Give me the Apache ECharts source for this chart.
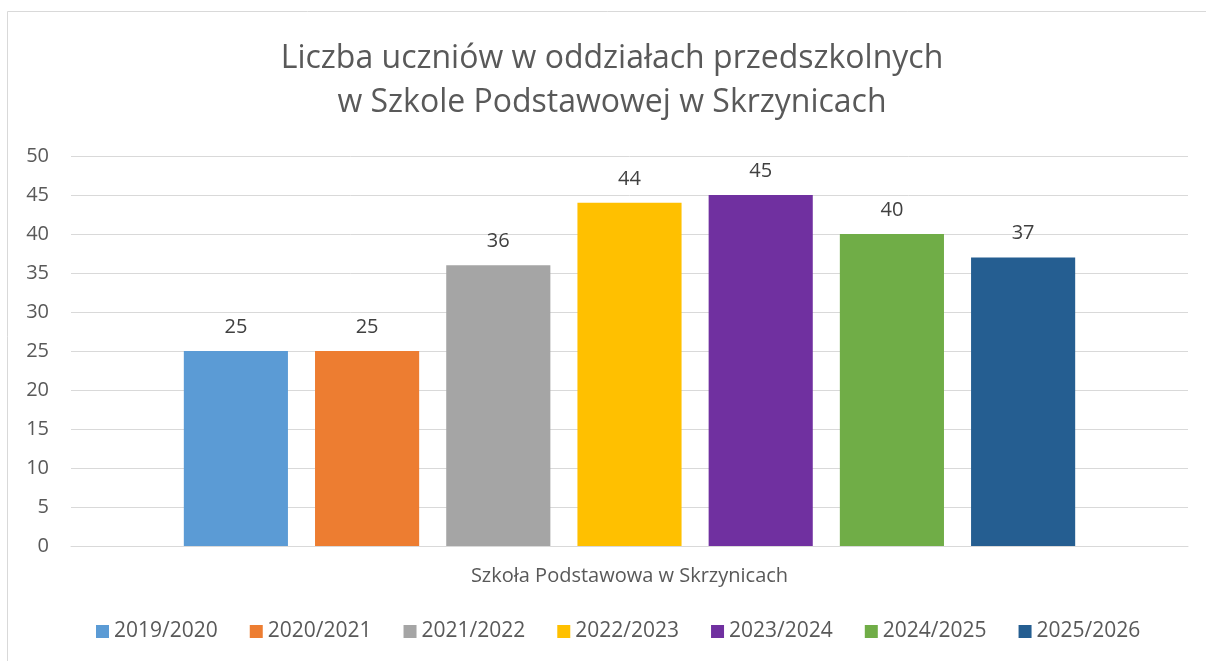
<!DOCTYPE html>
<html><head><meta charset="utf-8">
<script src="https://cdn.jsdelivr.net/npm/echarts@6/dist/echarts.min.js"></script>
<style>html,body{margin:0;padding:0;background:#fff}#c{width:1206px;height:661px}</style>
</head><body><div id="c"></div>
<script>
const categories = ['Szkoła Podstawowa w Skrzynicach'];
const seriesNames = ['2019/2020','2020/2021','2021/2022','2022/2023','2023/2024','2024/2025','2025/2026'];
const seriesValues = [25, 25, 36, 44, 45, 40, 37];
const seriesColors = ['#5B9BD5','#ED7D31','#A5A5A5','#FFC000','#7030A0','#70AD47','#255E91'];
const titleText = 'Liczba uczniów w oddziałach przedszkolnych\nw Szkole Podstawowej w Skrzynicach';
const FONT = '"Open Sans", sans-serif';

const chart = echarts.init(document.getElementById('c'), null, {renderer:'canvas'});
chart.setOption({
  backgroundColor:'#fff',
  animation:false,
  textStyle:{fontFamily:FONT},
  title:{text:titleText,left:607,textAlign:'center',top:32,
    textStyle:{fontFamily:FONT,fontSize:32,fontWeight:'normal',color:'#595959',lineHeight:44}},
  graphic:[{type:'rect',shape:{x:7.5,y:11.5,width:1220,height:670},
    style:{fill:'none',stroke:'#d9d9d9',lineWidth:1},silent:true,z:-1}],
  grid:{left:71,right:18,top:156,bottom:115,containLabel:false},
  legend:{bottom:14,left:91,itemWidth:13,itemHeight:13,itemGap:32,icon:'rect',
    textStyle:{fontFamily:FONT,fontSize:21,color:'#595959'},data:seriesNames},
  xAxis:{type:'category',data:categories,
    axisLine:{lineStyle:{color:'#d9d9d9'}},axisTick:{show:false},
    axisLabel:{margin:20,fontFamily:FONT,fontSize:20,color:'#595959'}},
  yAxis:{type:'value',min:0,max:50,interval:5,
    axisLine:{show:false},axisTick:{show:false},
    splitLine:{lineStyle:{color:'#d9d9d9',width:1}},
    axisLabel:{margin:22,fontFamily:FONT,fontSize:20,color:'#595959'}},
  series:seriesNames.map((n,i)=>({
    name:n,type:'bar',
    data:[seriesValues[i]],
    barGap:'26%',barCategoryGap:'20.2%',
    itemStyle:{color:seriesColors[i]},
    label:{show:true,position:'top',distance:14,fontFamily:FONT,fontSize:20,color:'#404040'}
  }))
});
</script></body></html>
